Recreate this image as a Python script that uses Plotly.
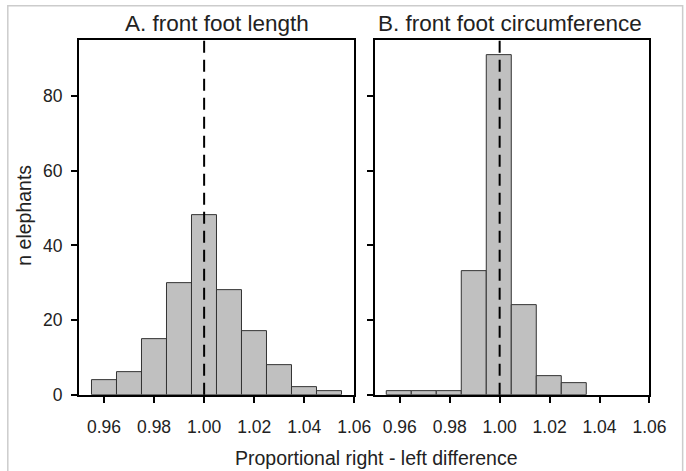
import plotly.graph_objects as go

bin_centers = [0.96, 0.97, 0.98, 0.99, 1.00, 1.01, 1.02, 1.03, 1.04, 1.05]
length_counts = [4, 6, 15, 30, 48, 28, 17, 8, 2, 1]
circ_counts = [1, 1, 1, 33, 91, 24, 5, 3, 0, 0]
x_ticks = [0.96, 0.98, 1.00, 1.02, 1.04, 1.06]
x_tick_labels = ["0.96", "0.98", "1.00", "1.02", "1.04", "1.06"]
y_ticks = [0, 20, 40, 60, 80]
panel_titles = ["A. front foot length", "B. front foot circumference"]
x_title = "Proportional right - left difference"
y_title = "n elephants"
ref_value = 1.00

W, H = 686, 471
FONT = "Liberation Sans, Arial, sans-serif"
TXT = "#222222"

def nz(vals):
    return [v if v > 0 else None for v in vals]

fig = go.Figure()
bar_style = dict(marker=dict(color="#c0c0c0", line=dict(color="#333333", width=1)),
                 width=0.01, showlegend=False, hoverinfo="skip")
fig.add_trace(go.Bar(x=bin_centers, y=nz(length_counts), xaxis="x", yaxis="y", **bar_style))
fig.add_trace(go.Bar(x=bin_centers, y=nz(circ_counts), xaxis="x2", yaxis="y2", **bar_style))

def px_x(p):
    return p / W

def px_y(p):
    return 1 - p / H

ydom = [px_y(403.3), px_y(41)]
xdom1 = [px_x(81), px_x(363.3)]
xdom2 = [px_x(384.3), px_x(666)]

axis_common = dict(showline=True, linecolor="black", linewidth=2, mirror=True,
                   ticks="outside", ticklen=6, tickwidth=1.5, tickcolor="black",
                   showgrid=False, zeroline=False,
                   tickfont=dict(family=FONT, size=17.5, color=TXT))

fig.update_layout(
    width=W, height=H,
    margin=dict(l=0, r=0, t=0, b=0),
    paper_bgcolor="white", plot_bgcolor="white",
    bargap=0,
    xaxis=dict(domain=xdom1, range=[0.95, 1.06], tickvals=x_ticks, ticktext=x_tick_labels,
               anchor="y", ticklabelstandoff=9, **axis_common),
    yaxis=dict(domain=ydom, range=[0, 95], tickvals=y_ticks, anchor="x",
               ticklabelstandoff=5, **axis_common),
    xaxis2=dict(domain=xdom2, range=[0.95, 1.06], tickvals=x_ticks, ticktext=x_tick_labels,
                anchor="y2", ticklabelstandoff=9, **axis_common),
    yaxis2=dict(domain=ydom, range=[0, 95], tickvals=y_ticks, showticklabels=False,
                anchor="x2", **axis_common),
)

for xr in ["x", "x2"]:
    fig.add_shape(type="line", xref=xr, yref=("y domain" if xr == "x" else "y2 domain"),
                  x0=ref_value, x1=ref_value, y0=0, y1=1, layer="above",
                  line=dict(color="black", width=2, dash="12px,7px"))

fig.add_annotation(text=panel_titles[0], xref="paper", yref="paper",
                   x=px_x(223), y=px_y(24), showarrow=False,
                   font=dict(family=FONT, size=22.5, color=TXT), xanchor="center", yanchor="middle")
fig.add_annotation(text=panel_titles[1], xref="paper", yref="paper",
                   x=px_x(523), y=px_y(24), showarrow=False,
                   font=dict(family=FONT, size=22.5, color=TXT), xanchor="center", yanchor="middle")
fig.add_annotation(text=x_title, xref="paper", yref="paper",
                   x=px_x(386), y=px_y(468), showarrow=False,
                   font=dict(family=FONT, size=19.5, color=TXT), xanchor="center", yanchor="middle")
fig.add_annotation(text=y_title, xref="paper", yref="paper",
                   x=px_x(25), y=px_y(220), showarrow=False, textangle=-90,
                   font=dict(family=FONT, size=19.5, color=TXT), xanchor="center", yanchor="middle")

# light frame around the figure
fig.add_shape(type="rect", xref="paper", yref="paper",
              x0=px_x(8), x1=px_x(700), y0=px_y(490), y1=px_y(6),
              line=dict(color="#cccccc", width=1.5), layer="below")

fig.write_html("out.html")
